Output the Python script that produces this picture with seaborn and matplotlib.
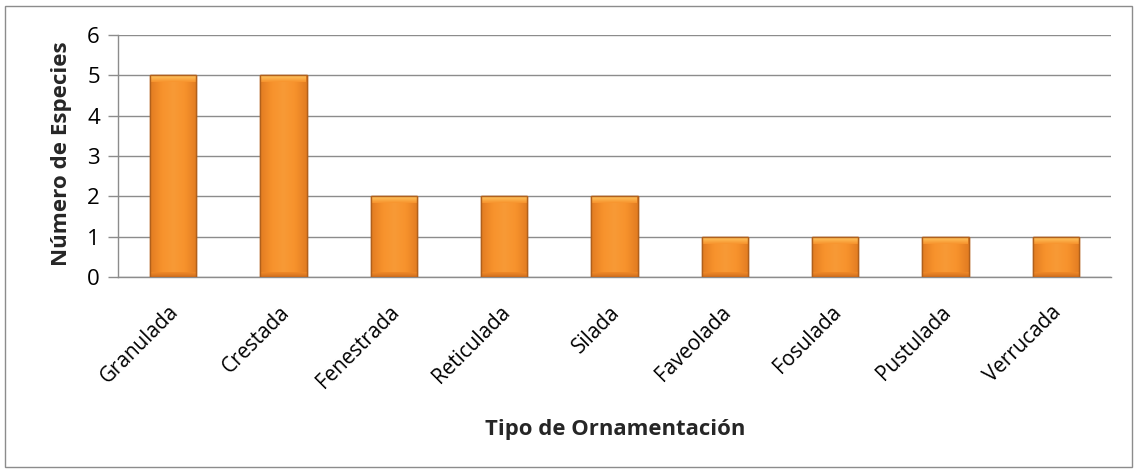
import numpy as np
import pandas as pd
import matplotlib
matplotlib.use("Agg")
import matplotlib.pyplot as plt
import seaborn as sns
from matplotlib.colors import LinearSegmentedColormap
from matplotlib.patches import Rectangle
from matplotlib.transforms import ScaledTranslation
from matplotlib.textpath import TextPath
from matplotlib.font_manager import FontProperties

categories = ["Granulada", "Crestada", "Fenestrada", "Reticulada", "Silada",
              "Faveolada", "Fosulada", "Pustulada", "Verrucada"]
values = [5, 5, 2, 2, 2, 1, 1, 1, 1]
y_ticks = [0, 1, 2, 3, 4, 5, 6]

FONT = "Open Sans"
sns.set_theme(style="white")
plt.rcParams['font.family'] = [FONT, 'DejaVu Sans']

DPI = 100


def fit_size(text, target_px, weight="normal"):
    fp = FontProperties(family=[FONT, 'DejaVu Sans'], weight=weight, size=10)
    w = TextPath((0, 0), text, prop=fp).get_extents().width  # points at size 10
    w_px = w * DPI / 72.0
    return 10 * target_px / w_px


tick_fs = fit_size("Granulada", 98)
xlab_fs = fit_size("Tipo de Ornamentación", 258, "bold")
ylab_fs = fit_size("Número de Especies", 222, "bold")

df = pd.DataFrame({"cat": categories, "val": values})

fig = plt.figure(figsize=(11.37, 4.72), dpi=DPI)
ax = fig.add_axes([118 / 1137, 1 - 277 / 472, (1111 - 118) / 1137, (277 - 35) / 472])

sns.barplot(data=df, x="cat", y="val", color="#F7922C", width=0.42,
            edgecolor="#B8621C", linewidth=1.0, ax=ax, saturation=1, zorder=3)

ax.set_ylim(0, 6)
ax.set_xlim(-0.5, len(categories) - 0.5)
ax.set_yticks(y_ticks)
ax.yaxis.grid(True, color="#8C8C8C", linewidth=1.0, zorder=0)
ax.set_axisbelow(True)
for s in ["top", "right"]:
    ax.spines[s].set_visible(False)
for s in ["left", "bottom"]:
    ax.spines[s].set_color("#8C8C8C")
    ax.spines[s].set_linewidth(1.0)
ax.tick_params(axis="y", length=7, width=1.0, color="#8C8C8C", labelsize=tick_fs * 1.08, pad=6, left=True)
ax.tick_params(axis="x", length=0, labelsize=tick_fs, pad=0)
ax.set_xlabel("")
ax.set_ylabel("")
for lab in ax.get_xticklabels():
    lab.set_rotation(45)
    lab.set_ha("right")
    lab.set_rotation_mode("anchor")
    lab.set_va("center")
    lab.set_color("black")
    lab.set_transform(lab.get_transform() + ScaledTranslation(0.025, -0.32, fig.dpi_scale_trans))
for lab in ax.get_yticklabels():
    lab.set_color("black")

# bar shading
cmap = LinearSegmentedColormap.from_list("o", ["#E27C22", "#F7922C", "#F89A36", "#F7922C", "#E27C22"])
top_cmap = LinearSegmentedColormap.from_list("t", ["#F7922C", "#FFC862"])
bot_cmap = LinearSegmentedColormap.from_list("b", ["#D06E1E", "#F08A28"])
grad = np.linspace(0, 1, 64).reshape(1, -1)
vgrad = np.linspace(0, 1, 32).reshape(-1, 1)
for p in list(ax.patches):
    x0, y0 = p.get_x(), p.get_y()
    w, h = p.get_width(), p.get_height()
    im = ax.imshow(grad, extent=[x0, x0 + w, y0, y0 + h], cmap=cmap, aspect="auto",
                   zorder=3.5, interpolation="bicubic")
    im.set_clip_path(p)
    bt = 0.17
    im2 = ax.imshow(vgrad, extent=[x0 + 0.01, x0 + w - 0.01, y0 + h - bt, y0 + h], cmap=top_cmap,
                    aspect="auto", zorder=3.6, origin="lower", interpolation="bicubic")
    im2.set_clip_path(p)
    im3 = ax.imshow(vgrad, extent=[x0, x0 + w, y0, y0 + 0.1], cmap=bot_cmap,
                    aspect="auto", zorder=3.6, origin="lower", interpolation="bicubic")
    im3.set_clip_path(p)
    ax.add_patch(Rectangle((x0, y0), w, h, facecolor="none", edgecolor="#B0601C",
                           linewidth=1.0, zorder=3.7))
ax.set_xlim(-0.5, len(categories) - 0.5)
ax.set_ylim(0, 6)

fig.text(62 / 1137, 1 - 154 / 472, "Número de Especies", ha="center", va="center",
         rotation=90, fontsize=ylab_fs, fontweight="bold")
fig.text(615 / 1137, 1 - 430 / 472, "Tipo de Ornamentación", ha="center", va="center",
         fontsize=xlab_fs, fontweight="bold")

fig.patches.append(Rectangle((5 / 1137, 5 / 472), 1 - 10 / 1137, 1 - 11 / 472, transform=fig.transFigure,
                             fill=False, edgecolor="#8C8C8C", linewidth=1.0))

fig.savefig("out.png", dpi=DPI, facecolor="white")
